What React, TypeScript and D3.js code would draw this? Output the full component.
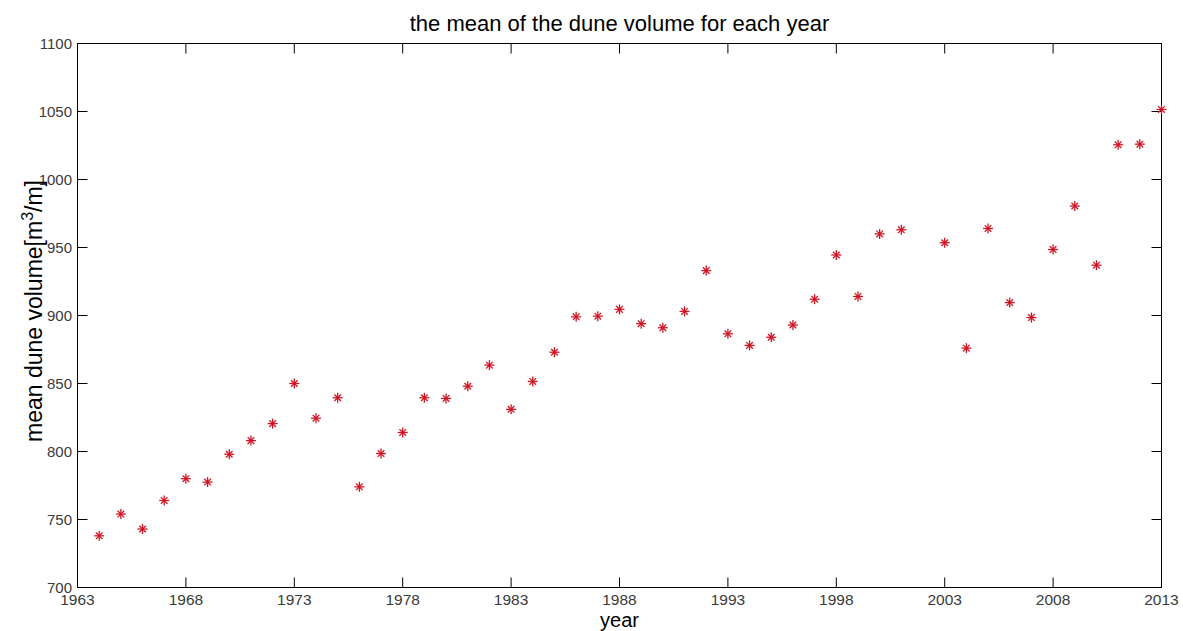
import React from "react";
import * as d3 from "d3";

// Mean dune volume per year (2002 has no survey)
const years: number[] = [
  1964, 1965, 1966, 1967, 1968, 1969, 1970, 1971, 1972, 1973,
  1974, 1975, 1976, 1977, 1978, 1979, 1980, 1981, 1982, 1983,
  1984, 1985, 1986, 1987, 1988, 1989, 1990, 1991, 1992, 1993,
  1994, 1995, 1996, 1997, 1998, 1999, 2000, 2001, 2003, 2004,
  2005, 2006, 2007, 2008, 2009, 2010, 2011, 2012, 2013,
];
const meanVolume: number[] = [
  738, 754, 743, 764, 780, 777.5, 798, 808, 820.5, 850,
  824.5, 839.5, 774, 798.5, 814, 839.5, 839, 848, 863.5, 831,
  851.5, 873, 899, 899.5, 904.5, 894, 891, 903, 933, 886.5,
  878, 884, 893, 912, 944.5, 914, 960, 963, 953.5, 876,
  964, 909.5, 898.5, 948.5, 980.5, 937, 1025.5, 1026, 1051.5,
];
const xTicks: number[] = [1963, 1968, 1973, 1978, 1983, 1988, 1993, 1998, 2003, 2008, 2013];
const yTicks: number[] = [700, 750, 800, 850, 900, 950, 1000, 1050, 1100];

const W = 1183;
const H = 631;
const left = 77.5;
const right = 1161.5;
const top = 43.5;
const bottom = 587.5;

export default function App() {
  const x = d3.scaleLinear().domain([1963, 2013]).range([left, right]);
  const y = d3.scaleLinear().domain([700, 1100]).range([bottom, top]);
  const tickLen = 10;
  const font = "Arial, 'Liberation Sans', sans-serif";
  const tickFont = "'Liberation Sans Narrow', 'Arial Narrow', Arial, sans-serif";
  const tickColor = "#3a3a3a";
  const markColor = "#cf1424";
  const armV = 5;
  const armD = 3.3;

  return (
    <svg
      width={W}
      height={H}
      style={{ position: "absolute", left: 0, top: 0, background: "#fff" }}
    >
      <rect x={0} y={0} width={W} height={H} fill="#fff" />
      <text
        x={(left + right) / 2}
        y={31}
        textAnchor="middle"
        fontFamily={font}
        fontSize={22}
        fill="#000"
      >
        the mean of the dune volume for each year
      </text>

      {/* box */}
      <rect
        x={left}
        y={top}
        width={right - left}
        height={bottom - top}
        fill="none"
        stroke="#000"
        strokeWidth={1}
      />

      {/* x ticks, bottom and top */}
      {xTicks.map((t) => (
        <g key={"xt" + t}>
          <line x1={x(t)} x2={x(t)} y1={bottom} y2={bottom - tickLen} stroke="#000" />
          <line x1={x(t)} x2={x(t)} y1={top} y2={top + tickLen} stroke="#000" />
          <text
            x={x(t)}
            y={605}
            textAnchor="middle"
            fontFamily={tickFont}
            fontSize={15.5}
            fill={tickColor}
          >
            {t}
          </text>
        </g>
      ))}

      {/* y ticks, left and right */}
      {yTicks.map((t) => (
        <g key={"yt" + t}>
          <line x1={left} x2={left + tickLen} y1={y(t)} y2={y(t)} stroke="#000" />
          <line x1={right} x2={right - tickLen} y1={y(t)} y2={y(t)} stroke="#000" />
          <text
            x={left - 5.5}
            y={y(t) + 5}
            textAnchor="end"
            fontFamily={tickFont}
            fontSize={15}
            fill={tickColor}
          >
            {t}
          </text>
        </g>
      ))}

      {/* axis labels */}
      <text
        x={(left + right) / 2}
        y={627}
        textAnchor="middle"
        fontFamily={font}
        fontSize={20}
        fill="#000"
      >
        year
      </text>
      <text
        transform={`translate(42,311) rotate(-90)`}
        textAnchor="middle"
        fontFamily={font}
        fontSize={23}
        fill="#000"
      >
        mean dune volume[m
        <tspan dy={-9} fontSize={16}>3</tspan>
        <tspan dy={9}>/m]</tspan>
      </text>

      {/* star markers */}
      {years.map((yr, i) => {
        const cx = x(yr);
        const cy = y(meanVolume[i]);
        return (
          <g key={"m" + yr} stroke={markColor} strokeWidth={1.3}>
            <line x1={cx - armV} x2={cx + armV} y1={cy} y2={cy} />
            <line x1={cx} x2={cx} y1={cy - armV} y2={cy + armV} />
            <line x1={cx - armD} x2={cx + armD} y1={cy - armD} y2={cy + armD} />
            <line x1={cx - armD} x2={cx + armD} y1={cy + armD} y2={cy - armD} />
          </g>
        );
      })}
    </svg>
  );
}
